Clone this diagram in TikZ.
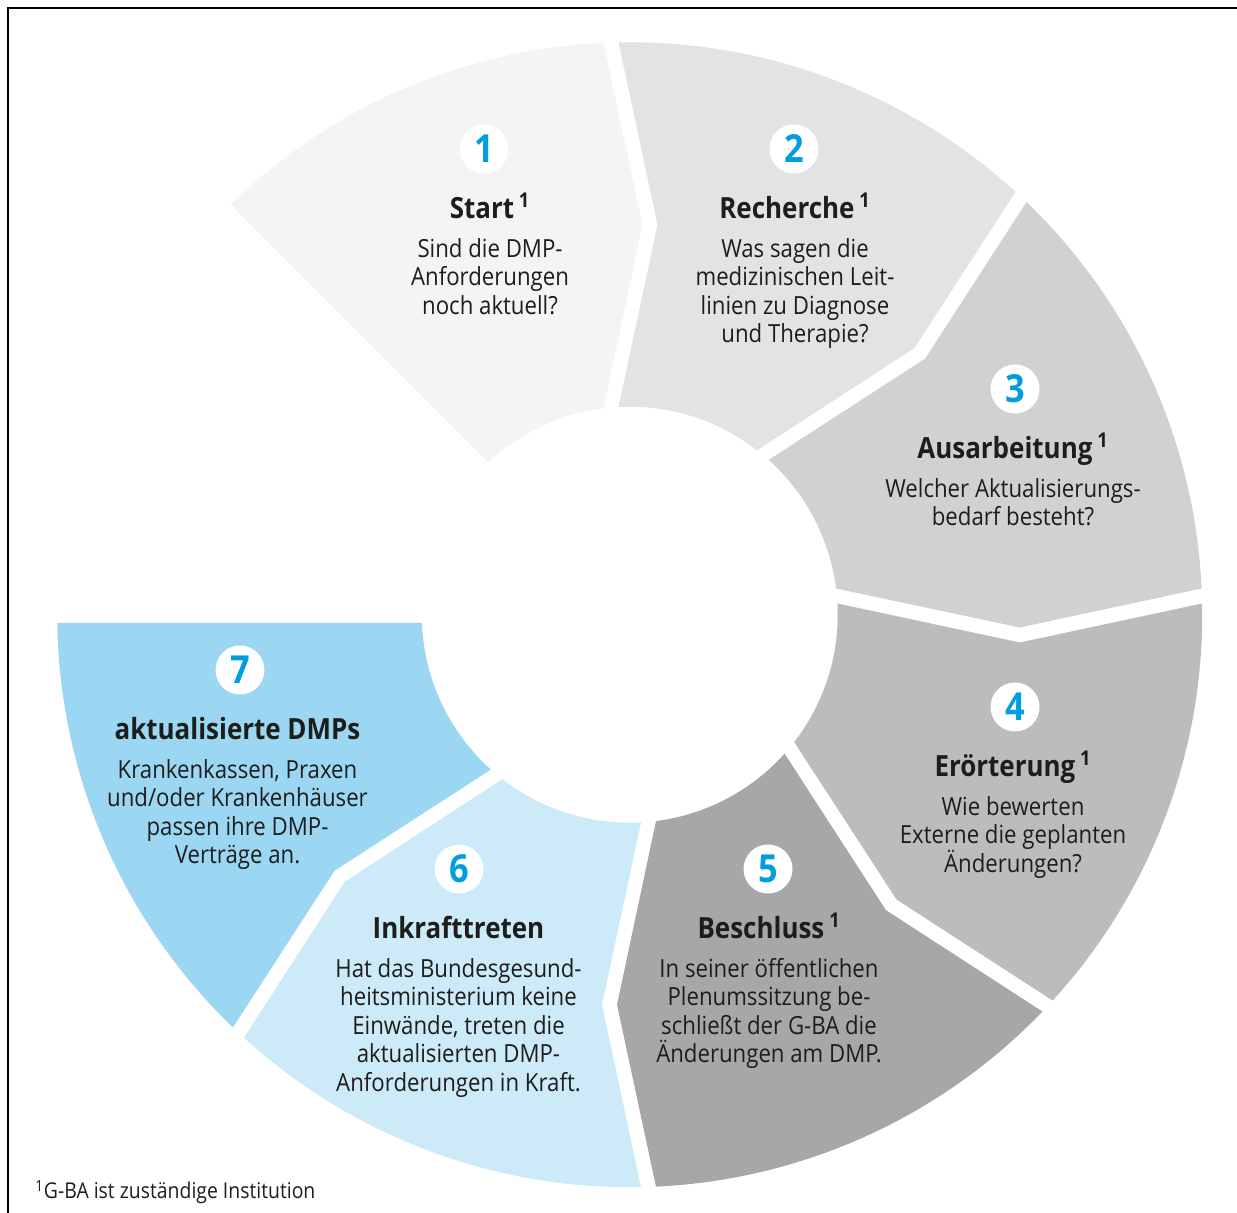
\documentclass[tikz,border=0pt]{standalone}
\usepackage{fontspec}
\setmainfont[FakeStretch=0.89]{Open Sans}
\definecolor{segA}{HTML}{F3F4F4}
\definecolor{segB}{HTML}{E2E3E4}
\definecolor{segC}{HTML}{D0D1D3}
\definecolor{segD}{HTML}{BBBCBE}
\definecolor{segE}{HTML}{A6A7A9}
\definecolor{segF}{HTML}{CCEAF8}
\definecolor{segG}{HTML}{9BD7F2}
\definecolor{numblue}{HTML}{009EE0}
\definecolor{ink}{HTML}{1D1D1B}
\newcommand\fnm{\,\textsuperscript{1}}
\begin{document}
\begin{tikzpicture}[x=0.02cm, y=0.02cm,
    num/.style={circle, fill=white, inner sep=0pt, minimum size=0.98cm, text=numblue, font=\fontsize{22}{22}\selectfont\bfseries},
    ttl/.style={anchor=base, text=ink, inner sep=0pt, font=\fontsize{16.6}{18}\selectfont\bfseries},
    txt/.style={anchor=north, align=center, text=ink, inner sep=0pt, font=\fontsize{14.2}{16.2}\selectfont}
]
    \useasboundingbox (0,0) rectangle (1237,1213);
    \draw[line width=1.4pt] (8,-20) |- (1260,1205);

    % Ringsegmente mit Pfeilspitzen
    \begin{scope}[shift={(629.75,598.25)}]
    \foreach \i/\col in {1/segA,2/segB,3/segC,4/segD,5/segE,6/segF,7/segG} {
        \pgfmathsetmacro\ta{180-45*\i}
        \pgfmathsetmacro\tb{\ta-45}
        \pgfmathsetmacro\sa{ifthenelse(\i==1,-8,11.25)}
        \pgfmathsetmacro\sb{ifthenelse(\i==7,8.25,26.25)}
        \pgfmathsetmacro\na{ifthenelse(\i==1,-8,-27.75)}
        \pgfmathsetmacro\nb{ifthenelse(\i==7,8.25,-12.75)}
        \pgfmathsetmacro\oa{\ta+asin(\sa/572.5)}
        \pgfmathsetmacro\ob{\tb+asin(\sb/572.5)}
        \pgfmathsetmacro\ia{\ta+asin(\sa/208)}
        \pgfmathsetmacro\ib{\tb+asin(\sb/208)}
        \pgfmathsetmacro\pa{\ta+atan2(\na,390)}
        \pgfmathsetmacro\ra{veclen(390,\na)}
        \pgfmathsetmacro\pb{\tb+atan2(\nb,390)}
        \pgfmathsetmacro\rb{veclen(390,\nb)}
        \fill[\col] (\oa:572.5) arc[start angle=\oa, end angle=\ob, radius=572.5]
            -- (\pb:\rb) -- (\ib:208) arc[start angle=\ib, end angle=\ia, radius=208]
            -- (\pa:\ra) -- cycle;
    }
    \end{scope}

    \node[num] (n1) at (484,1064) {1};
    \node[ttl] (t1) at (490,994) {Start\fnm};
    \node[txt] (d1) at (490,975) {Sind die DMP-\\Anforderungen\\noch aktuell?};

    \node[num] (n2) at (794,1064) {2};
    \node[ttl] (t2) at (795,994) {Recherche\fnm};
    \node[txt] (d2) at (795,975) {Was sagen die\\medizinischen Leit-\\linien zu Diagnose\\und Therapie?};

    \node[num] (n3) at (1015,824) {3};
    \node[ttl] (t3) at (1013,754) {Ausarbeitung\fnm};
    \node[txt] (d3) at (1013,735) {Welcher Aktualisierungs-\\bedarf besteht?};

    \node[num] (n4) at (1015,506) {4};
    \node[ttl] (t4) at (1013,436) {Erörterung\fnm};
    \node[txt] (d4) at (1013,417) {Wie bewerten\\Externe die geplanten\\Änderungen?};

    \node[num] (n5) at (768,344) {5};
    \node[ttl] (t5) at (769,274) {Beschluss\fnm};
    \node[txt] (d5) at (769,255) {In seiner öffentlichen\\Plenumssitzung be-\\schließt der G-BA die\\Änderungen am DMP.};

    \node[num] (n6) at (459,344) {6};
    \node[ttl] (t6) at (458.5,274) {Inkrafttreten};
    \node[txt] (d6) at (458.5,255) {Hat das Bundesgesund-\\heitsministerium keine\\Einwände, treten die\\aktualisierten DMP-\\Anforderungen in Kraft.};

    \node[num] (n7) at (240,543) {7};
    \node[ttl] (t7) at (237.5,473) {aktualisierte DMPs};
    \node[txt] (d7) at (237.5,454) {Krankenkassen, Praxen\\und/oder Krankenhäuser\\passen ihre DMP-\\Verträge an.};

    % Fussnote
    \node[anchor=base west, inner sep=0pt, text=ink, font=\fontsize{12.4}{14}\selectfont] (fn) at (35,14) {\textsuperscript{1}G-BA ist zuständige Institution};
\end{tikzpicture}
\end{document}
